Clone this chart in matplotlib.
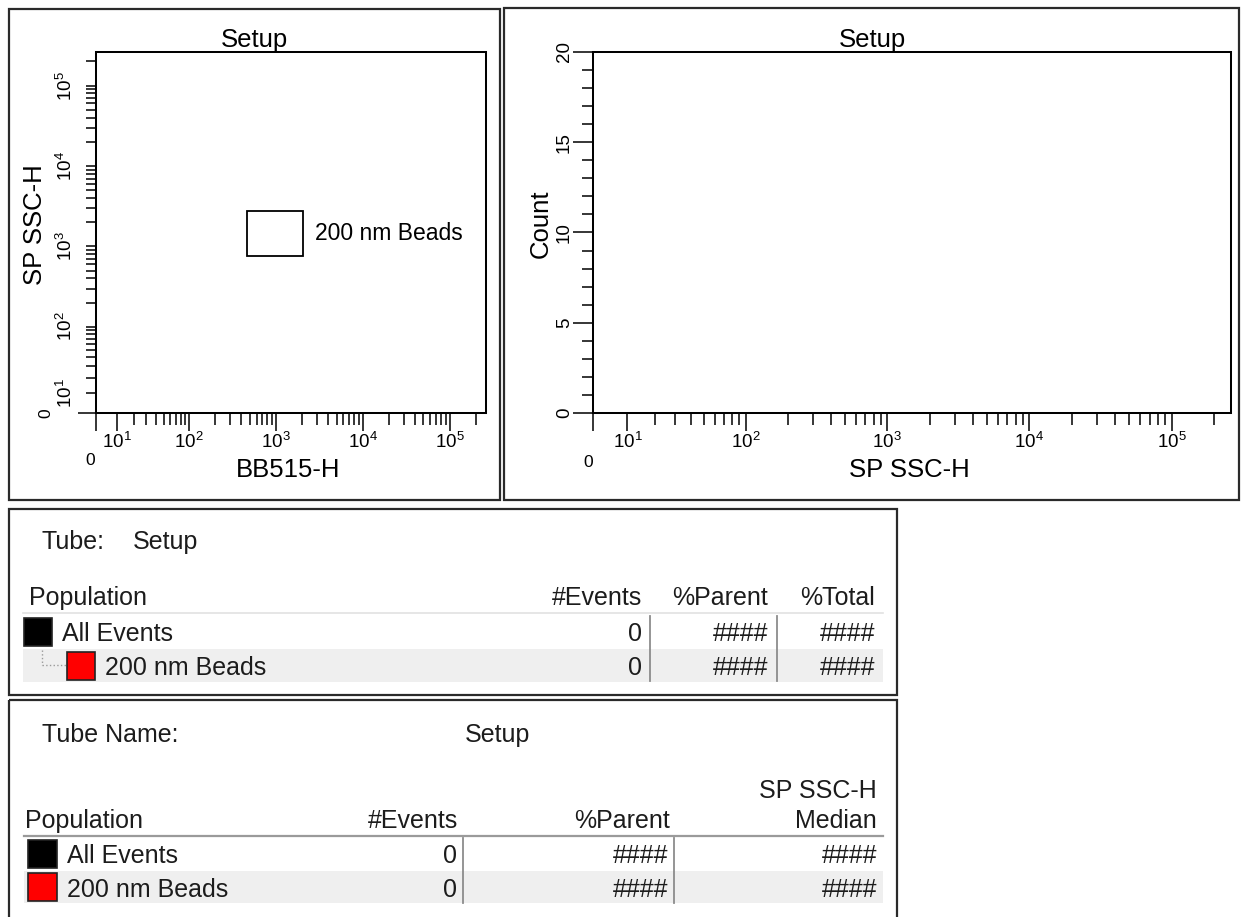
import numpy as np
import matplotlib

matplotlib.use("Agg")
import matplotlib.pyplot as plt
from matplotlib.patches import Rectangle
from matplotlib.ticker import FixedLocator, FixedFormatter, NullFormatter

plt.rcParams["font.family"] = ["Liberation Sans", "DejaVu Sans"]
plt.rcParams["mathtext.fontset"] = "custom"
plt.rcParams["mathtext.rm"] = "Liberation Sans"
plt.rcParams["mathtext.it"] = "Liberation Sans:italic"
plt.rcParams["mathtext.bf"] = "Liberation Sans:bold"

W, H = 1241, 917

# --- data ---
tube_name = "Setup"
dot_x_param = "BB515-H"
dot_y_param = "SP SSC-H"
hist_param = "SP SSC-H"
scale_max = 262144
gate_name = "200 nm Beads"
gate_x = [460, 2050]
gate_y = [760, 2760]
count_max = 20
decades = [10, 100, 1000, 10000, 100000]
decade_labels = [r"$\mathregular{10^{1}}$", r"$\mathregular{10^{2}}$", r"$\mathregular{10^{3}}$",
                 r"$\mathregular{10^{4}}$", r"$\mathregular{10^{5}}$"]
count_ticks = [0, 5, 10, 15, 20]
count_labels = ["0", "5", "10", "15", "20"]

populations = ["All Events", "200 nm Beads"]
pop_colors = ["#000000", "#ff0000"]
pop_events = [0, 0]
pop_parent = ["####", "####"]
pop_total = ["####", "####"]
pop_median = ["####", "####"]

# biexponential-like display transform (asinh)
A = 17.0


def fwd(v):
    return np.arcsinh(np.asarray(v, float) / A) / np.log(10)


def inv(u):
    return A * np.sinh(np.asarray(u, float) * np.log(10))


MINOR = [m * 10 ** k for k in range(1, 5) for m in range(2, 10)] + [200000]
TICK_FS = 13.5


def rect(x0, y0, x1, y1):
    return [x0 / W, 1 - y1 / H, (x1 - x0) / W, (y1 - y0) / H]


def log_axis(axis):
    axis.set_major_locator(FixedLocator([0] + decades))
    axis.set_major_formatter(FixedFormatter([""] + decade_labels))
    axis.set_minor_locator(FixedLocator(MINOR))
    axis.set_minor_formatter(NullFormatter())


fig = plt.figure(figsize=(W / 100, H / 100), dpi=100)

# pixel-space overlay for panel frames, titles and the statistics tables
bg = fig.add_axes([0, 0, 1, 1])
bg.set_xlim(0, W)
bg.set_ylim(H, 0)
bg.axis("off")

FRAME = dict(fill=False, ec="#2a2a2a", lw=1.6)
bg.add_patch(Rectangle((9, 9), 491, 491, **FRAME))
bg.add_patch(Rectangle((504, 8), 735, 492, **FRAME))
bg.add_patch(Rectangle((9, 509), 888, 186, **FRAME))
bg.add_patch(Rectangle((9, 700), 888, 230, **FRAME))

# --- dot plot ---
ax1 = fig.add_axes(rect(96, 52, 486, 413))
ax1.set_xscale("function", functions=(fwd, inv))
ax1.set_yscale("function", functions=(fwd, inv))
ax1.set_xlim(0, scale_max)
ax1.set_ylim(0, scale_max)
log_axis(ax1.xaxis)
log_axis(ax1.yaxis)
ax1.add_patch(Rectangle((gate_x[0], gate_y[0]), gate_x[1] - gate_x[0], gate_y[1] - gate_y[0],
                        fill=False, ec="black", lw=1.3))
ax1.annotate(gate_name, xy=(gate_x[1], np.sqrt(gate_y[0] * gate_y[1])), xytext=(12, 0),
             textcoords="offset pixels", ha="left", va="center", fontsize=16.5)
ax1.tick_params(axis="x", which="major", length=13, width=1.1, labelsize=TICK_FS, pad=0.5)
ax1.tick_params(axis="x", which="minor", length=8.6, width=1.1)
ax1.tick_params(axis="y", which="both", length=7.2, width=1.1, labelsize=TICK_FS, pad=7)
for t in ax1.get_yticklabels():
    t.set_rotation(90)
    t.set_va("center")
ax1.yaxis.get_major_ticks()[0].tick1line.set_markersize(13)
ax1.annotate("0", xy=(0, 0), xycoords=("data", "axes fraction"), xytext=(-1, -40),
             textcoords="offset pixels", ha="right", va="top", fontsize=12.5, annotation_clip=False)
ax1.annotate("0", xy=(0, 0), xycoords=("axes fraction", "data"), xytext=(-43, 0),
             textcoords="offset pixels", ha="right", va="center", rotation=90, fontsize=12.5,
             annotation_clip=False)

# --- histogram (no events acquired) ---
ax2 = fig.add_axes(rect(593, 52, 1231, 413))
ax2.set_xscale("function", functions=(fwd, inv))
ax2.set_xlim(0, scale_max)
ax2.set_ylim(0, count_max)
log_axis(ax2.xaxis)
ax2.yaxis.set_major_locator(FixedLocator(count_ticks))
ax2.yaxis.set_major_formatter(FixedFormatter(count_labels))
ax2.yaxis.set_minor_locator(FixedLocator(list(range(count_max + 1))))
ax2.tick_params(axis="x", which="major", length=13, width=1.1, labelsize=TICK_FS, pad=0.5)
ax2.tick_params(axis="x", which="minor", length=8.6, width=1.1)
ax2.tick_params(axis="y", which="major", length=14.4, width=1.1, labelsize=TICK_FS, pad=0)
ax2.tick_params(axis="y", which="minor", length=8, width=1.1)
for t in ax2.get_yticklabels():
    t.set_rotation(90)
    t.set_va("center")
ax2.annotate("0", xy=(0, 0), xycoords=("data", "axes fraction"), xytext=(0, -42),
             textcoords="offset pixels", ha="right", va="top", fontsize=12.5, annotation_clip=False)

for ax in (ax1, ax2):
    for s in ax.spines.values():
        s.set_linewidth(1.45)

# plot titles and axis labels
bg.text(254.5, 47, tube_name, ha="center", va="baseline", fontsize=18.5)
bg.text(872, 47, tube_name, ha="center", va="baseline", fontsize=18.5)
bg.text(288, 477, dot_x_param, ha="center", va="baseline", fontsize=18.5)
bg.text(35, 225, dot_y_param, ha="center", va="center", rotation=90, fontsize=18.5)
bg.text(909, 477, hist_param, ha="center", va="baseline", fontsize=18.5)
bg.text(541, 224, "Count", ha="center", va="center", rotation=90, fontsize=18.5)

# --- population hierarchy table ---
TFS = 18
TC = "#1c1c1c"


def tt(x, y, s, ha="left"):
    bg.text(x, y, s, ha=ha, va="baseline", fontsize=TFS, color=TC)


tt(42, 549, "Tube:")
tt(133, 549, tube_name)
tt(29, 605, "Population")
tt(642, 605, "#Events", "right")
tt(768, 605, "%Parent", "right")
tt(875, 605, "%Total", "right")
bg.plot([23, 883], [613, 613], color="#e2e2e2", lw=1.2)
bg.add_patch(Rectangle((23, 649), 860, 33, fc="#efefef", ec="none"))
bg.plot([42, 42], [650, 665], color="#9a9a9a", lw=1, ls=":")
bg.plot([42, 66], [665, 665], color="#9a9a9a", lw=1, ls=":")
rows1 = [(641, 24, 618), (675, 67, 652)]
for i, (base, sx, sy) in enumerate(rows1):
    bg.add_patch(Rectangle((sx, sy), 28, 28, fc=pop_colors[i], ec="#222222", lw=1.2))
    tt(sx + 38, base, populations[i])
    tt(642, base, str(pop_events[i]), "right")
    tt(768, base, pop_parent[i], "right")
    tt(875, base, pop_total[i], "right")
for x in (650, 777):
    bg.plot([x, x], [616, 681], color="#8c8c8c", lw=1.3)

# --- statistics table ---
tt(42, 742, "Tube Name:")
tt(465, 742, tube_name)
tt(877, 798, hist_param, "right")
tt(25, 828, "Population")
tt(458, 828, "#Events", "right")
tt(670, 828, "%Parent", "right")
tt(877, 828, "Median", "right")
bg.plot([24, 883], [836, 836], color="#9a9a9a", lw=1.6)
bg.add_patch(Rectangle((24, 871), 859, 32, fc="#efefef", ec="none"))
rows2 = [(863, 840), (897, 873)]
for i, (base, sy) in enumerate(rows2):
    bg.add_patch(Rectangle((28, sy), 29, 28, fc=pop_colors[i], ec="#222222", lw=1.2))
    tt(67, base, populations[i])
    tt(457, base, str(pop_events[i]), "right")
    tt(668, base, pop_parent[i], "right")
    tt(877, base, pop_median[i], "right")
for x in (463, 674):
    bg.plot([x, x], [838, 903], color="#8c8c8c", lw=1.3)

fig.savefig("out.png", dpi=100, facecolor="white")
